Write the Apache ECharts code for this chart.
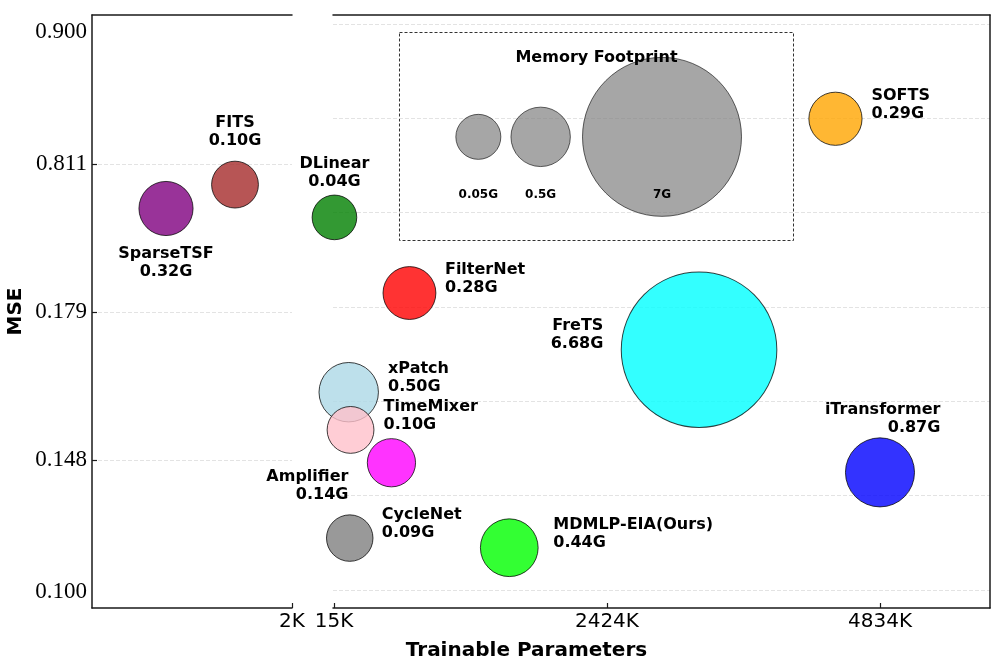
<!DOCTYPE html>
<html><head><meta charset="utf-8">
<script src="https://cdn.jsdelivr.net/npm/echarts@6/dist/echarts.min.js"></script>
<style>html,body{margin:0;padding:0;background:#fff}#c{width:997px;height:669px}</style>
</head><body><div id="c"></div>
<script>
// ---------------- data ----------------
const models   = ['SparseTSF','FITS','DLinear','FilterNet','xPatch','TimeMixer','Amplifier','CycleNet','MDMLP-EIA(Ours)','FreTS','SOFTS','iTransformer'];
const paramsK  = [0.74, 1.43, 19, 681, 145, 161, 522, 154, 1562, 3237, 4441, 4834];
const mse      = [0.621, 0.723, 0.583, 0.260, 0.1622, 0.1543, 0.1470, 0.1196, 0.1161, 0.1711, 0.8415, 0.1435];
const memoryG  = [0.32, 0.10, 0.04, 0.28, 0.50, 0.10, 0.14, 0.09, 0.44, 6.68, 0.29, 0.87];
const legendMemG    = [0.05, 0.5, 7];
const legendParamsK = [1289, 1839, 2910];
const legendMse     = [0.8293, 0.8293, 0.8293];
const yTickValues = [0.100, 0.148, 0.179, 0.811, 0.900];
const yTickLabels = ['0.100', '0.148', '0.179', '0.811', '0.900'];
const yTicksMarked = [0.148, 0.179, 0.811];
const xTicksLeftK  = [2];
const xTicksRightK = [15, 2424, 4834];

// ---------------- layout / style ----------------
const AXIS_SPAN = 593;                       // axis units of the (non-uniform) MSE scale
const yTickSlots = [16, 148, 296, 444, 576]; // where each MSE tick sits on that scale
const rightGridSlots = [0,1,2,3,4,5,6].map(i => 18 + 94.33 * i);
const LEFT_X = [0, 2], RIGHT_X = [6.2, 5805];

function mseToAxis(v) {
  const t = yTickValues, s = yTickSlots;
  let i = 0;
  while (i < t.length - 2 && v > t[i + 1]) i++;
  return s[i] + (v - t[i]) / (t[i + 1] - t[i]) * (s[i + 1] - s[i]);
}
function slotLabel(slot) {
  let best = 0;
  yTickSlots.forEach((s, i) => { if (Math.abs(s - slot) < Math.abs(yTickSlots[best] - slot)) best = i; });
  return yTickLabels[best];
}
const colors = {
  'SparseTSF': 'rgba(128,0,128,0.8)', 'FITS': 'rgba(165,42,42,0.8)', 'DLinear': 'rgba(0,128,0,0.8)',
  'FilterNet': 'rgba(255,0,0,0.8)', 'xPatch': 'rgba(173,216,230,0.8)', 'TimeMixer': 'rgba(255,192,203,0.8)',
  'Amplifier': 'rgba(255,0,255,0.8)', 'CycleNet': 'rgba(128,128,128,0.8)', 'MDMLP-EIA(Ours)': 'rgba(0,255,0,0.8)',
  'FreTS': 'rgba(0,255,255,0.8)', 'SOFTS': 'rgba(255,165,0,0.8)', 'iTransformer': 'rgba(0,0,255,0.8)'
};
const labelPlace = {
  'SparseTSF': ['center', [0, 54.5]], 'FITS': ['center', [0, -52.5]], 'DLinear': ['center', [0, -44.5]],
  'FilterNet': ['left', [35.5, -14]], 'xPatch': ['left', [39.3, -14]], 'TimeMixer': ['left', [33, -14]],
  'Amplifier': ['right', [-43, 23.5]], 'CycleNet': ['left', [32, -14.5]], 'MDMLP-EIA(Ours)': ['left', [44, -14]],
  'FreTS': ['right', [-95.7, -14.5]], 'SOFTS': ['left', [36, -14]], 'iTransformer': ['right', [60.4, -54]]
};
const bubbleSize = v => Math.sqrt(1858 + 3346 * v[2]);
const FONT = 'DejaVu Sans';
const spine = { show: true, lineStyle: { color: '#1a1a1a', width: 1.5 } };
const grid = { show: true, lineStyle: { color: '#dcdcdc', width: 0.8, type: [4, 2] } };

function item(i) {
  const name = models[i];
  const lp = labelPlace[name];
  return {
    name: name,
    value: [paramsK[i], mseToAxis(mse[i]), memoryG[i]],
    itemStyle: { color: colors[name] },
    label: { position: 'inside', align: lp[0], verticalAlign: 'middle', offset: lp[1] }
  };
}
const leftItems = [], rightItems = [];
models.forEach((m, i) => (paramsK[i] <= LEFT_X[1] ? leftItems : rightItems).push(item(i)));

const baseScatter = {
  type: 'scatter', symbolSize: bubbleSize, animation: false, silent: true,
  itemStyle: { opacity: 1, borderColor: 'rgba(0,0,0,0.75)', borderWidth: 1 },
  label: {
    show: true, color: '#000', opacity: 1, fontFamily: FONT, fontWeight: 'bold', fontSize: 16, lineHeight: 18,
    formatter: p => p.name + '\n' + p.value[2].toFixed(2) + 'G'
  }
};

const option = {
  backgroundColor: '#fff',
  animation: false,
  grid: [
    { left: 92, right: 705, top: 15, bottom: 61 },
    { left: 333, right: 7, top: 15, bottom: 61 }
  ],
  xAxis: [
    { type: 'value', gridIndex: 0, position: 'bottom', min: LEFT_X[0], max: LEFT_X[1],
      axisLine: spine, splitLine: { show: false },
      axisTick: { show: true, inside: true, length: 5, customValues: xTicksLeftK, lineStyle: { color: '#1a1a1a', width: 1.2 } },
      axisLabel: { customValues: xTicksLeftK, formatter: v => v + 'K', color: '#000', fontFamily: FONT, fontSize: 20, margin: 4 } },
    { type: 'value', gridIndex: 1, position: 'bottom', min: RIGHT_X[0], max: RIGHT_X[1],
      axisLine: spine, splitLine: { show: false },
      axisTick: { show: true, inside: true, length: 5, customValues: xTicksRightK, lineStyle: { color: '#1a1a1a', width: 1.2 } },
      axisLabel: { customValues: xTicksRightK, formatter: v => v + 'K', color: '#000', fontFamily: FONT, fontSize: 20, margin: 4 } },
    { type: 'value', gridIndex: 0, position: 'top', min: LEFT_X[0], max: LEFT_X[1], axisLine: spine,
      axisTick: { show: false }, axisLabel: { show: false }, splitLine: { show: false } },
    { type: 'value', gridIndex: 1, position: 'top', min: RIGHT_X[0], max: RIGHT_X[1], axisLine: spine,
      axisTick: { show: false }, axisLabel: { show: false }, splitLine: { show: false } }
  ],
  yAxis: [
    { type: 'value', gridIndex: 0, position: 'left', min: 0, max: AXIS_SPAN,
      name: 'MSE', nameLocation: 'middle', nameGap: 66, nameRotate: 90,
      nameTextStyle: { fontFamily: FONT, fontWeight: 'bold', fontSize: 20, color: '#000' },
      axisLine: spine, splitLine: grid,
      axisTick: { show: true, inside: true, length: 5, customValues: yTicksMarked.map(mseToAxis), lineStyle: { color: '#1a1a1a', width: 1.2 } },
      axisLabel: { customValues: yTickSlots, formatter: slotLabel, color: '#000', fontFamily: 'Liberation Serif', fontSize: 23, margin: 5 } },
    { type: 'value', gridIndex: 1, position: 'right', min: 0, max: AXIS_SPAN,
      axisLine: spine, splitLine: grid,
      axisTick: { show: false, customValues: rightGridSlots },
      axisLabel: { show: false } }
  ],
  series: [
    Object.assign({}, baseScatter, { xAxisIndex: 0, yAxisIndex: 0, data: leftItems }),
    Object.assign({}, baseScatter, { xAxisIndex: 1, yAxisIndex: 1, data: rightItems }),
    { type: 'scatter', xAxisIndex: 1, yAxisIndex: 1, symbolSize: bubbleSize, silent: true, animation: false, z: 1,
      itemStyle: { opacity: 1, color: 'rgba(128,128,128,0.7)', borderColor: 'rgba(0,0,0,0.6)', borderWidth: 1 },
      label: { show: true, opacity: 1, position: 'inside', offset: [0, 58], color: '#000', fontFamily: FONT, fontWeight: 'bold', fontSize: 12,
               formatter: p => p.value[2] + 'G' },
      data: legendMemG.map((m, i) => [legendParamsK[i], mseToAxis(legendMse[i]), m]) }
  ],
  graphic: [
    { type: 'rect', z: 0, shape: { x: 399.5, y: 32.5, width: 394, height: 208 },
      style: { fill: 'none', stroke: '#333', lineWidth: 1, lineDash: [3, 2] } },
    { type: 'text', z: 100, x: 596.5, y: 57.5,
      style: { text: 'Memory Footprint', font: 'bold 16px "DejaVu Sans"', fill: '#000', textAlign: 'center', textVerticalAlign: 'middle' } },
    { type: 'text', z: 100, x: 526.5, y: 650.5,
      style: { text: 'Trainable Parameters', font: 'bold 20px "DejaVu Sans"', fill: '#000', textAlign: 'center', textVerticalAlign: 'middle' } }
  ]
};
const chart = echarts.init(document.getElementById('c'), null, { renderer: 'canvas' });
chart.setOption(option);
</script>
</body></html>
